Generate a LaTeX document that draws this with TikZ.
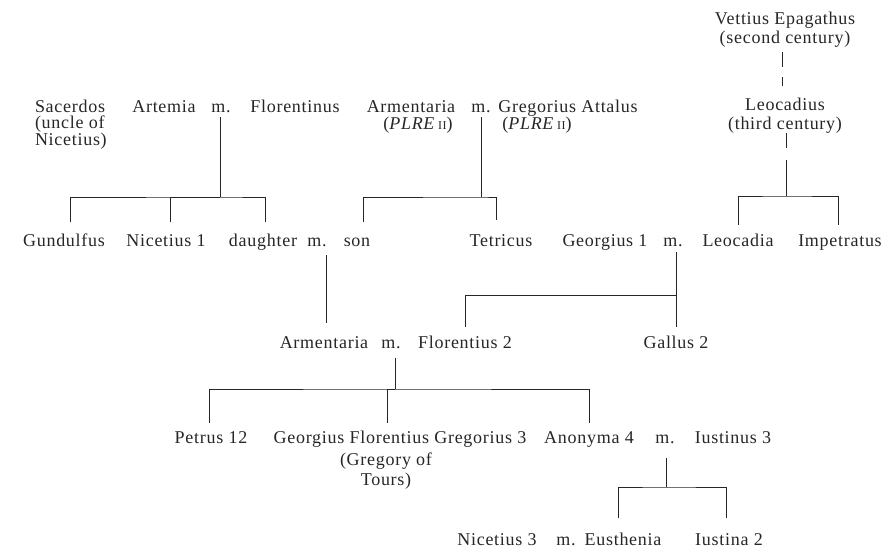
\documentclass[tikz,border=0pt]{standalone}
\usepackage{fontspec}
\setmainfont{Liberation Serif}[LetterSpace=4]
\definecolor{ink}{RGB}{38,38,38}
\newcommand{\plre}{(\textit{PLRE}\,{\fontsize{12}{12}\selectfont II})}
\begin{document}
\begin{tikzpicture}[x=1pt,y=-1pt,
  every node/.style={inner sep=0pt,outer sep=0pt,text=ink},
  person/.style={anchor=base,font=\fontsize{18}{19}\selectfont},
  wed/.style={anchor=base,font=\fontsize{18}{19}\selectfont},
  note/.style={anchor=base,align=center,font=\fontsize{18}{19}\selectfont},
  tie/.style={draw=ink,line width=0.9pt},
  dimtie/.style={tie,dash pattern=#1}]
\useasboundingbox (0,0) rectangle (894,549);

% ---- first generation shown (multi-line nodes sit on their last baseline)
\node[person,anchor=base west,align=left,font=\fontsize{18}{16.5}\selectfont]
  (sacerdos) at (35,145) {Sacerdos\\(uncle of\\Nicetius)};
\node[person] (artemia) at (164,112) {Artemia};
\node[wed] (mA) at (221,112) {m.};
\node[person] (florentinus) at (295,112) {Florentinus};
\node[person] (armentaria) at (411,112) {Armentaria};
\node[note] (plreA) at (418,129) {\plre};
\node[wed] (mB) at (481,112) {m.};
\node[person] (attalus) at (568,112) {Gregorius Attalus};
\node[note] (plreB) at (537,129) {\plre};

% ---- ancestors on the right
\node[note] (vettius) at (785,43) {Vettius Epagathus\\(second century)};
\node[note] (leocadius) at (785,129) {Leocadius\\(third century)};

% ---- second row
\node[person] (gund) at (64,246) {Gundulfus};
\node[person] (nic1) at (166,246) {Nicetius 1};
\node[person] (daughter) at (263,246) {daughter};
\node[wed] (mC) at (317,246) {m.};
\node[person] (son) at (357,246) {son};
\node[person] (tetricus) at (501,246) {Tetricus};
\node[person] (georgius) at (605,246) {Georgius 1};
\node[wed] (mD) at (673,246) {m.};
\node[person] (leocadia) at (738,246) {Leocadia};
\node[person] (impetratus) at (840,246) {Impetratus};

% ---- third row
\node[person] (armentaria2) at (324,348) {Armentaria};
\node[wed] (mE) at (391,348) {m.};
\node[person] (florentius) at (465,348) {Florentius 2};
\node[person] (gallus) at (676,348) {Gallus 2};

% ---- fourth row
\node[person] (petrus) at (211,443) {Petrus 12};
\node[person] (gfg) at (400,443) {Georgius Florentius Gregorius 3};
\node[note] (gregory) at (386,485) {(Gregory of\\[1pt]Tours)};
\node[person] (anonyma) at (589,443) {Anonyma 4};
\node[wed] (mF) at (665,443) {m.};
\node[person] (iustinus) at (733,443) {Iustinus 3};

% ---- fifth row
\node[person] (nic3) at (497,545) {Nicetius 3};
\node[wed] (mG) at (566,545) {m.};
\node[person] (eusthenia) at (623,545) {Eusthenia};
\node[person] (iustina) at (729,545) {Iustina 2};

% ---- junctions of the sibling bars
\coordinate (jA) at (220,197);
\coordinate (jB) at (481,197);
\coordinate (jL) at (786,196);
\coordinate (jD) at (676,295);
\coordinate (jE) at (395,389);
\coordinate (jF) at (666,487);

% Artemia m. Florentinus
\draw[tie] ([xshift=-1pt,yshift=-5pt]mA.base) -- (jA);
\draw[tie] ([xshift=6pt,yshift=24pt]gund.base) |- (jA) -| ([xshift=2pt,yshift=24pt]daughter.base);
\draw[tie] ([xshift=4pt,yshift=24pt]nic1.base) |- (jA);

% Armentaria m. Gregorius Attalus
\draw[tie] ([yshift=-5pt]mB.base) -- (jB);
\draw[tie] ([xshift=6pt,yshift=24pt]son.base) |- (jB) -| ([xshift=-5pt,yshift=26pt]tetricus.base);

% Vettius Epagathus -- Leocadius -- children
\draw[dimtie={on 15pt off 10pt on 10pt off 10pt}] ([xshift=-3pt,yshift=-5pt]vettius.south) -- ([xshift=-3pt,yshift=12pt]leocadius.north);
\draw[dimtie={on 15pt off 12pt on 60pt off 10pt}] ([xshift=1pt]leocadius.south) -- (jL);
\draw[tie] ([yshift=21pt]leocadia.base) |- (jL) -| ([xshift=-2pt,yshift=21pt]impetratus.base);

% daughter m. son
\draw[tie] ([xshift=9pt,yshift=-9pt]mC.base) -- ([xshift=2pt,yshift=25pt]armentaria2.base);

% Georgius 1 m. Leocadia
\draw[tie] ([xshift=3pt,yshift=-6pt]mD.base) -- ([yshift=21pt]gallus.base);
\draw[tie] (jD) -| ([yshift=21pt]florentius.base);

% Armentaria m. Florentius 2
\draw[tie] ([xshift=4pt,yshift=-10pt]mE.base) -- (jE);
\draw[tie] ([xshift=-2pt,yshift=20pt]petrus.base) |- (jE) -| ([yshift=20pt]anonyma.base);
\draw[tie] ([xshift=-13pt,yshift=20pt]gfg.base) |- (jE);

% Anonyma 4 m. Iustinus 3
\draw[tie] ([xshift=1pt,yshift=-15pt]mF.base) -- (jF);
\draw[tie] ([xshift=-5pt,yshift=27pt]eusthenia.base) |- (jF) -| ([xshift=-3pt,yshift=27pt]iustina.base);
\end{tikzpicture}
\end{document}
